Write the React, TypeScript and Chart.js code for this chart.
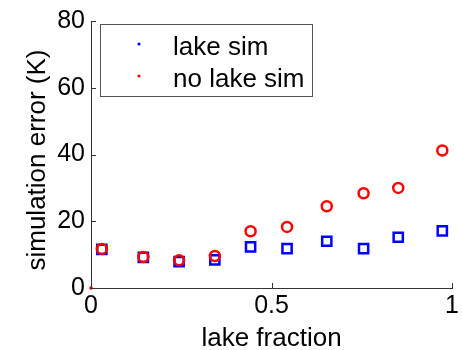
import React, { useEffect, useRef } from "react";
import { Chart, registerables } from "chart.js";

Chart.register(...registerables);

const lakeFraction = [0.03, 0.145, 0.244, 0.343, 0.442, 0.543, 0.653, 0.755, 0.851, 0.973];
const lakeSim = [11.6, 9.2, 7.9, 8.4, 12.3, 11.8, 14.0, 11.8, 15.2, 17.1];
const noLakeSim = [11.7, 9.3, 8.3, 9.6, 17.0, 18.3, 24.5, 28.4, 30.0, 41.2];
const originX = [0];
const originY = [0];
const xTicks = [0, 0.5, 1];
const yTicks = [0, 20, 40, 60, 80];
const xTitle = "lake fraction";
const yTitle = "simulation error (K)";
const seriesLabels = ["lake sim", "no lake sim"];
const seriesColors = ["#0000ff", "#ff0000"];

const FONT = "'Liberation Sans', Arial, Helvetica, sans-serif";

const decorPlugin = {
  id: "decor",
  afterDraw(chart: any) {
    const ctx = chart.ctx;
    const xs = chart.scales.x;
    const ys = chart.scales.y;
    const area = chart.chartArea;
    ctx.save();
    // inward ticks
    ctx.strokeStyle = "#333";
    ctx.lineWidth = 1;
    ctx.beginPath();
    xTicks.forEach((t) => {
      const px = Math.round(xs.getPixelForValue(t)) + 0.5;
      ctx.moveTo(px, area.bottom);
      ctx.lineTo(px, area.bottom - 5);
    });
    yTicks.forEach((t) => {
      const py = Math.round(ys.getPixelForValue(t)) + 0.5;
      ctx.moveTo(area.left, py);
      ctx.lineTo(area.left + 5, py);
    });
    ctx.stroke();

    // axis titles
    ctx.fillStyle = "#000";
    ctx.font = `26px ${FONT}`;
    ctx.textAlign = "center";
    ctx.textBaseline = "alphabetic";
    ctx.fillText(xTitle, (area.left + area.right) / 2, 346);
    ctx.save();
    ctx.translate(45, 160);
    ctx.rotate(-Math.PI / 2);
    ctx.fillText(yTitle, 0, 0);
    ctx.restore();

    // legend
    const lx = 100.5, ly = 24.5, lw = 212, lh = 72;
    ctx.fillStyle = "#fff";
    ctx.fillRect(lx, ly, lw, lh);
    ctx.strokeStyle = "#555";
    ctx.lineWidth = 1;
    ctx.strokeRect(lx, ly, lw, lh);
    const rows = [55, 87];
    seriesLabels.forEach((lab, i) => {
      ctx.fillStyle = seriesColors[i];
      ctx.beginPath();
      ctx.arc(139, rows[i] - 11, 1.6, 0, Math.PI * 2);
      ctx.fill();
      ctx.fillStyle = "#000";
      ctx.textAlign = "left";
      ctx.fillText(lab, 173, rows[i]);
    });
    ctx.restore();
  },
};

export default function App() {
  const ref = useRef<HTMLCanvasElement>(null);
  useEffect(() => {
    document.body.style.margin = "0";
    const chart = new Chart(ref.current!, {
      type: "scatter",
      data: {
        datasets: [
          {
            label: seriesLabels[1],
            data: lakeFraction.map((x, i) => ({ x, y: noLakeSim[i] })),
            pointStyle: "circle",
            pointRadius: 5,
            pointBorderWidth: 2.5,
            pointBorderColor: seriesColors[1],
            pointBackgroundColor: "rgba(0,0,0,0)",
            order: 0,
          },
          {
            label: seriesLabels[0],
            data: lakeFraction.map((x, i) => ({ x, y: lakeSim[i] })),
            pointStyle: "rect",
            pointRadius: 6.5,
            pointBorderWidth: 2.5,
            pointBorderColor: seriesColors[0],
            pointBackgroundColor: "rgba(0,0,0,0)",
            order: 1,
          },
          {
            label: "origin",
            data: originX.map((x, i) => ({ x, y: originY[i] })),
            pointStyle: "circle",
            pointRadius: 1.8,
            pointBorderWidth: 0,
            pointBackgroundColor: seriesColors[1],
            order: -1,
          },
        ],
      },
      options: {
        animation: false,
        responsive: false,
        maintainAspectRatio: false,
        clip: false,
        layout: { padding: { left: 0, top: 16, right: 9, bottom: 0 } },
        plugins: { legend: { display: false }, tooltip: { enabled: false } },
        scales: {
          x: {
            type: "linear",
            min: 0,
            max: 1,
            afterBuildTicks: (s: any) => {
              s.ticks = xTicks.map((v) => ({ value: v }));
            },
            afterFit: (s: any) => {
              s.height = 62;
            },
            ticks: {
              color: "#000",
              font: { family: FONT, size: 25 },
              padding: 3,
              maxRotation: 0,
              callback: (v: any) => String(v),
            },
            grid: { display: true, color: "rgba(0,0,0,0)", drawTicks: false },
            border: { display: true, color: "#333", width: 1 },
          },
          y: {
            type: "linear",
            min: 0,
            max: 80,
            afterBuildTicks: (s: any) => {
              s.ticks = yTicks.map((v) => ({ value: v }));
            },
            afterFit: (s: any) => {
              s.width = 91;
            },
            ticks: {
              color: "#000",
              font: { family: FONT, size: 25 },
              padding: 6,
              callback: (v: any) => String(v),
            },
            grid: { display: true, color: "rgba(0,0,0,0)", drawTicks: false },
            border: { display: true, color: "#333", width: 1 },
          },
        },
      },
      plugins: [decorPlugin],
    });
    return () => chart.destroy();
  }, []);
  return (
    <div style={{ position: "fixed", left: 0, top: 0, width: 462, height: 350, background: "#fff" }}>
      <canvas ref={ref} width={462} height={350} style={{ width: 462, height: 350 }} />
    </div>
  );
}
